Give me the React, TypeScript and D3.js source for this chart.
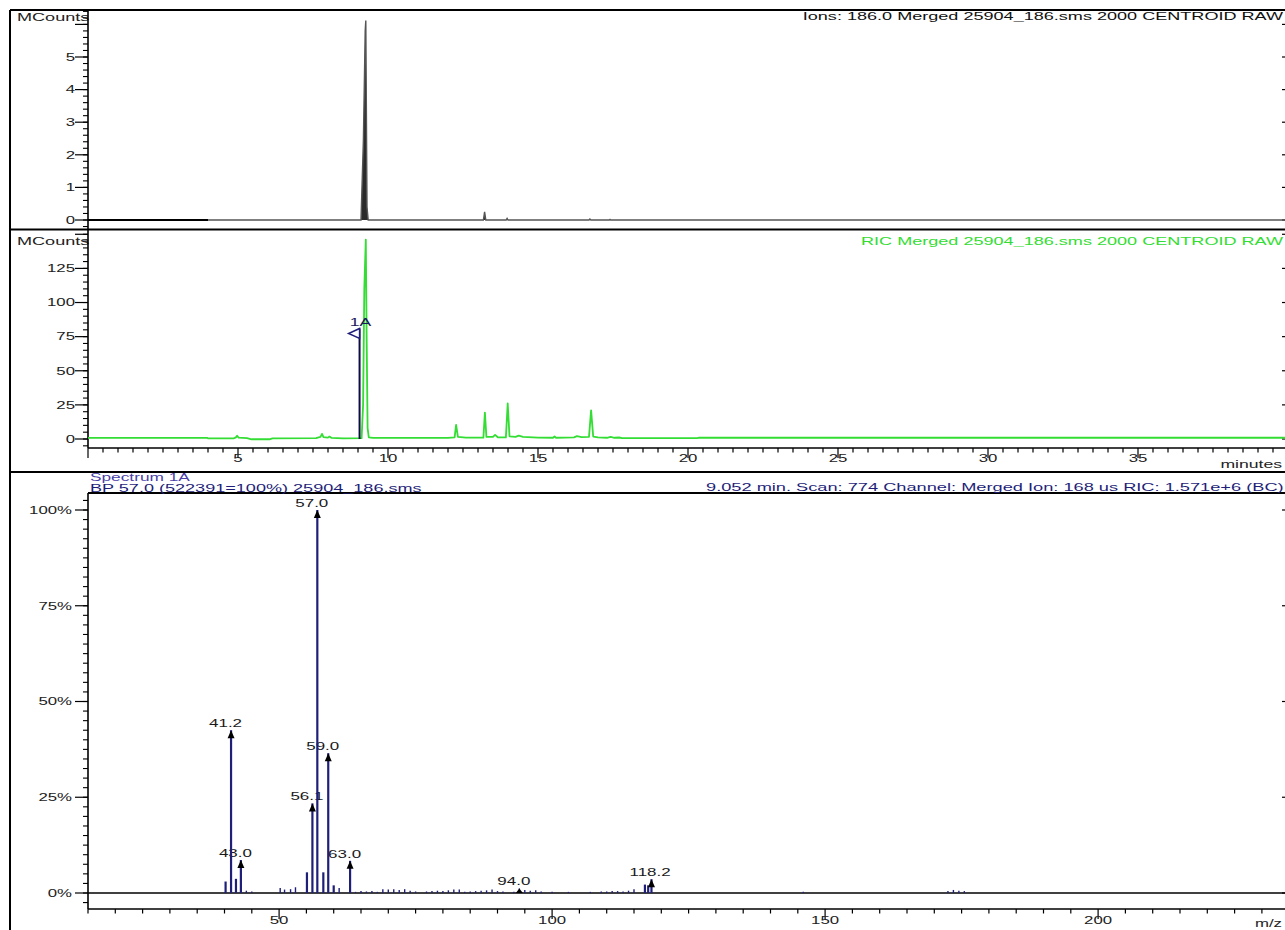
import React from 'react';
import * as d3 from 'd3';

const FONT = "'Liberation Sans', Arial, Helvetica, sans-serif";
const SX = 1.6;

// ---------- DATA ----------
// Panel 1: Ion 186.0 chromatogram [minutes, MCounts]
const ionTrace: [number, number][] = [
  [0, 0], [4.0, 0], [9.1, 0], [9.18, 2.45], [9.24, 5.8], [9.26, 6.12], [9.3, 0.4], [9.34, 0],
  [13.18, 0], [13.22, 0.25], [13.26, 0], [13.94, 0], [13.97, 0.05], [14.0, 0],
  [16.7, 0], [16.73, 0.03], [16.76, 0], [17.38, 0], [17.4, 0.015], [17.42, 0], [40, 0],
];
const solventDelayEnd = 4.0;

// Panel 2: RIC chromatogram [minutes, MCounts]
const ricTrace: [number, number][] = [
  [0, 0.8], [3.98, 0.8], [4.0, 0.4], [4.85, 0.4], [4.93, 1.2], [4.97, 2.4], [5.02, 1.0], [5.3, 0.6],
  [5.45, -0.2], [6.05, -0.2], [6.15, 0.5], [7.6, 0.6], [7.75, 1.5], [7.8, 3.8], [7.85, 1.3],
  [8.0, 1.0], [8.05, 1.8], [8.12, 0.8], [8.5, 0.5], [9.12, 0.6], [9.17, 25], [9.21, 110],
  [9.26, 146], [9.29, 70], [9.32, 8], [9.36, 1.2], [9.5, 0.8], [12.0, 0.8], [12.22, 1.2],
  [12.27, 10.3], [12.33, 1.5], [12.6, 1.0], [13.18, 1.0], [13.23, 19.3], [13.28, 1.5],
  [13.5, 1.5], [13.57, 3.0], [13.66, 1.3], [13.93, 1.2], [13.99, 26], [14.05, 2.0],
  [14.25, 1.5], [14.36, 2.5], [14.5, 1.6], [15.0, 1.0], [15.5, 0.9], [15.55, 1.8], [15.6, 0.9],
  [16.2, 1.2], [16.3, 2.1], [16.45, 1.4], [16.7, 1.6], [16.77, 21], [16.84, 1.8], [17.0, 1.2],
  [17.3, 0.9], [17.42, 1.5], [17.55, 0.9], [17.7, 1.1], [17.8, 0.6], [20.3, 0.6], [20.35, 0.9],
  [40, 0.9],
];

// Spectrum marker on RIC
const markerTime = 9.052;
const markerTop = 81;
const markerLabel = '1A';

// Panel 3: mass spectrum
const spectrumMz = [
  40.2, 41.2, 42.1, 43.0, 44.0, 45.0, 50.2, 51.0, 52.1, 53.0, 55.1, 56.1, 57.0, 58.1, 59.0, 60.0,
  61.0, 63.0, 64.0, 65.0, 66.0, 67.0, 68.0, 69.0, 70.0, 71.0, 72.0, 73.0, 74.0, 75.0, 77.0, 78.0,
  79.0, 80.0, 81.0, 82.0, 83.0, 84.0, 85.0, 86.0, 87.0, 88.0, 89.0, 90.0, 91.0, 93.0, 94.0, 95.0,
  96.0, 97.0, 98.0, 100.0, 103.0, 107.0, 109.0, 110.0, 111.0, 112.0, 113.0, 114.0, 115.0, 117.0,
  117.6, 118.2, 146.0, 172.5, 173.5, 174.5, 175.5,
];
const spectrumPct = [
  3.0, 42.5, 3.7, 8.6, 0.6, 0.4, 1.3, 0.9, 1.0, 1.5, 5.4, 23.4, 100, 5.4, 36.5, 2.0,
  1.3, 8.4, 0.3, 0.5, 0.4, 0.5, 0.3, 1.0, 0.9, 1.0, 0.8, 1.0, 0.6, 0.4, 0.4, 0.5,
  0.6, 0.5, 0.7, 0.9, 0.9, 0.3, 0.4, 0.5, 0.6, 0.7, 0.9, 0.5, 0.4, 0.3, 1.2, 0.8,
  0.6, 0.7, 0.4, 0.3, 0.3, 0.3, 0.4, 0.4, 0.5, 0.5, 0.4, 0.6, 1.0, 2.2,
  2.0, 3.6, 0.3, 0.5, 0.8, 0.6, 0.5,
];
const labeledMz = [41.2, 43.0, 56.1, 57.0, 59.0, 63.0, 94.0, 118.2];
const labeledPct = [42.5, 8.6, 23.4, 100, 36.5, 8.4, 1.2, 3.6];
const labeledText = ['41.2', '43.0', '56.1', '57.0', '59.0', '63.0', '94.0', '118.2'];

// Tick labels
const ionTicks = [0, 1, 2, 3, 4, 5];
const ricTicks = [0, 25, 50, 75, 100, 125];
const pctTicks = [0, 25, 50, 75, 100];
const timeTicks = [5, 10, 15, 20, 25, 30, 35];
const mzTicks = [50, 100, 150, 200];

const ionTitle = 'Ions: 186.0 Merged 25904_186.sms 2000 CENTROID RAW';
const ricTitle = 'RIC Merged 25904_186.sms 2000 CENTROID RAW';
const specTitle1 = 'Spectrum 1A';
const specTitle2 = 'BP 57.0 (522391=100%) 25904_186.sms';
const specInfo = '9.052 min. Scan: 774 Channel: Merged Ion: 168 us RIC: 1.571e+6 (BC)';

// ---------- HELPERS ----------
function T({ x, y, anchor = 'start', size = 10.5, fill = '#1a1a1a', children }: any) {
  return (
    <text
      transform={`translate(${x},${y}) scale(${SX},1)`}
      textAnchor={anchor}
      fontSize={size}
      fill={fill}
      fontFamily={FONT}
    >
      {children}
    </text>
  );
}

function YAxis({ scale, x, top, bottom, minorStep, majors, labels, fmt, rightX, labelX }: any) {
  const [d0, d1] = [scale.invert(bottom), scale.invert(top)];
  const minors = d3.range(Math.ceil(d0 / minorStep) * minorStep, d1 + 1e-9, minorStep);
  return (
    <g>
      <line x1={x} x2={x} y1={top} y2={bottom} stroke="#000" strokeWidth={1.6} />
      {minors.map((v: number, i: number) => (
        <line key={'m' + i} x1={x - 5} x2={x} y1={scale(v)} y2={scale(v)} stroke="#000" strokeWidth={1.1} />
      ))}
      {majors.map((v: number, i: number) => (
        <g key={'M' + i}>
          <line x1={x - 13} x2={x} y1={scale(v)} y2={scale(v)} stroke="#000" strokeWidth={1.2} />
          <line x1={rightX - 6} x2={rightX} y1={scale(v)} y2={scale(v)} stroke="#000" strokeWidth={1.2} />
        </g>
      ))}
      {labels.map((v: number, i: number) => (
        <T key={'L' + i} x={labelX} y={scale(v) + 3.8} anchor="end" fill="#222">
          {fmt(v)}
        </T>
      ))}
    </g>
  );
}

function XAxis({ scale, y, left, right, minorStep, majorStep, labels, labelY }: any) {
  const [d0, d1] = [scale.invert(left), scale.invert(right)];
  const ticks = d3.range(Math.ceil(d0 / minorStep - 1e-9) * minorStep, d1 + 1e-9, minorStep);
  return (
    <g>
      <line x1={left} x2={right} y1={y} y2={y} stroke="#000" strokeWidth={1.6} />
      {ticks.map((v: number, i: number) => {
        const major = Math.abs(v / majorStep - Math.round(v / majorStep)) < 1e-6;
        return (
          <line key={i} x1={scale(v)} x2={scale(v)} y1={y} y2={y + (major ? 10 : 4.5)} stroke="#000" strokeWidth={1.2} />
        );
      })}
      {labels.map((v: number, i: number) => (
        <T key={'l' + i} x={scale(v)} y={labelY} anchor="middle" fill="#222">
          {String(v)}
        </T>
      ))}
    </g>
  );
}

export default function App() {
  const W = 1285;
  const H = 930;
  const AX = 88;
  const RX = 1288;

  const xT = d3.scaleLinear().domain([0, 40]).range([AX, RX]);
  const y1 = d3.scaleLinear().domain([0, 6]).range([220, 24.4]);
  const y2 = d3.scaleLinear().domain([0, 125]).range([439, 268.4]);
  const xM = d3.scaleLinear().domain([15, 50]).range([AX, 279.1]);
  const y3 = d3.scaleLinear().domain([0, 100]).range([893, 510]);

  const ionLine = d3.line<[number, number]>().x((d) => xT(d[0])).y((d) => y1(d[1]));
  const ionArea = d3.area<[number, number]>().x((d) => xT(d[0])).y0(y1(0)).y1((d) => y1(d[1]));
  const ricLine = d3.line<[number, number]>().x((d) => xT(d[0])).y((d) => y2(d[1]));

  const delayPts = ionTrace.filter((d) => d[0] <= solventDelayEnd);
  const afterPts = ionTrace.filter((d) => d[0] >= solventDelayEnd);

  const navy = '#1f1f7a';
  const green = '#33dd33';

  const mx = xT(markerTime);
  const my = y2(markerTop);

  return (
    <svg
      width={W}
      height={H}
      style={{ position: 'absolute', left: 0, top: 0, background: '#fff' }}
      fontFamily={FONT}
    >
      <rect x={0} y={0} width={W} height={H} fill="#fff" />

      {/* frame */}
      <line x1={10} x2={W + 5} y1={10} y2={10} stroke="#000" strokeWidth={2} />
      <line x1={10} x2={10} y1={10} y2={H + 5} stroke="#000" strokeWidth={2} />
      <line x1={10} x2={W + 5} y1={229.5} y2={229.5} stroke="#000" strokeWidth={2} />
      <line x1={10} x2={W + 5} y1={472} y2={472} stroke="#000" strokeWidth={2} />
      <line x1={AX} x2={W + 5} y1={493} y2={493} stroke="#000" strokeWidth={1.8} />
      <line x1={RX} x2={RX} y1={10} y2={909} stroke="#000" strokeWidth={1.6} />

      {/* ---------- Panel 1 ---------- */}
      <T x={17} y={21} size={11.3} fill="#222">MCounts</T>
      <T x={1283} y={19.5} anchor="end" size={11.3} fill="#111">{ionTitle}</T>
      <YAxis
        scale={y1}
        x={AX}
        top={10}
        bottom={229.5}
        minorStep={0.2}
        majors={[0, 1, 2, 3, 4, 5, 6]}
        labels={ionTicks}
        fmt={(v: number) => String(v)}
        rightX={RX}
        labelX={75}
      />
      <path d={ionArea(afterPts) || ''} fill="#2a2a2a" stroke="none" />
      <path d={ionLine(afterPts) || ''} fill="none" stroke="#555" strokeWidth={1.4} />
      <path d={ionLine(delayPts) || ''} fill="none" stroke="#000" strokeWidth={2.2} />

      {/* ---------- Panel 2 ---------- */}
      <T x={17} y={245} size={11.3} fill="#222">MCounts</T>
      <T x={1283} y={245} anchor="end" size={11.3} fill={green}>{ricTitle}</T>
      <YAxis
        scale={y2}
        x={AX}
        top={229.5}
        bottom={448}
        minorStep={5}
        majors={[0, 25, 50, 75, 100, 125, 150]}
        labels={ricTicks}
        fmt={(v: number) => String(v)}
        rightX={RX}
        labelX={75}
      />
      <XAxis scale={xT} y={448} left={AX} right={RX} minorStep={0.5} majorStep={5} labels={timeTicks} labelY={462} />
      <T x={1282} y={468} anchor="end" size={11} fill="#222">minutes</T>
      <path d={ricLine(ricTrace) || ''} fill="none" stroke={green} strokeWidth={1.8} strokeLinejoin="round" />
      {/* spectrum marker */}
      <line x1={mx} x2={mx} y1={y2(0)} y2={my} stroke="#0d0d45" strokeWidth={2} />
      <polygon
        points={`${mx},${my} ${mx},${my + 10} ${mx - 11},${my + 5}`}
        fill="#fff"
        stroke={navy}
        strokeWidth={1.5}
      />
      <T x={mx + 1} y={my - 2} anchor="middle" size={11} fill="#1a1a5a">{markerLabel}</T>

      {/* ---------- Panel 3 ---------- */}
      <T x={90} y={480.5} size={10.8} fill="#4a3fa8">{specTitle1}</T>
      <T x={90} y={491.5} size={11.3} fill={navy}>{specTitle2}</T>
      <T x={706} y={491} size={11.4} fill={navy}>{specInfo}</T>
      <YAxis
        scale={y3}
        x={AX}
        top={493}
        bottom={909}
        minorStep={2.5}
        majors={pctTicks}
        labels={pctTicks}
        fmt={(v: number) => v + '%'}
        rightX={RX}
        labelX={72}
      />
      <XAxis scale={xM} y={909} left={AX} right={RX} minorStep={5} majorStep={50} labels={mzTicks} labelY={924} />
      <T x={1282} y={927} anchor="end" size={10.5} fill="#222">m/z</T>

      {/* peak labels (drawn under bars) */}
      {labeledMz.map((m, i) => (
        <T key={'pl' + i} x={xM(m) - 22} y={y3(labeledPct[i]) - 3} size={10.6} fill="#1a1a1a">
          {labeledText[i]}
        </T>
      ))}
      {/* baseline */}
      <line x1={AX} x2={RX} y1={y3(0)} y2={y3(0)} stroke="#000" strokeWidth={1.6} />
      {/* bars */}
      {spectrumMz.map((m, i) => (
        <line
          key={'b' + i}
          x1={xM(m)}
          x2={xM(m)}
          y1={y3(0)}
          y2={y3(spectrumPct[i])}
          stroke={navy}
          strokeWidth={spectrumPct[i] < 2 ? 1.4 : 2.2}
        />
      ))}
      {/* arrows */}
      {labeledMz.map((m, i) => {
        const x = xM(m);
        const tip = y3(labeledPct[i]);
        const base = Math.min(tip + 8, y3(0));
        return <polygon key={'a' + i} points={`${x},${tip} ${x - 3.5},${base} ${x + 3.5},${base}`} fill="#000" />;
      })}
    </svg>
  );
}
